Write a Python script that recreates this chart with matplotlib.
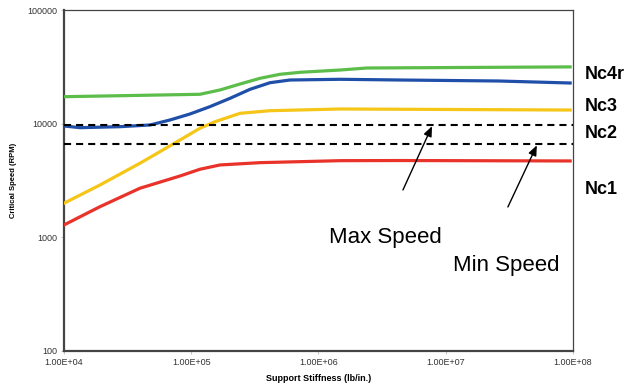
import matplotlib
matplotlib.use("Agg")
import matplotlib.pyplot as plt

plt.rcParams["font.family"] = ["Liberation Sans", "DejaVu Sans"]

# ── data ─────────────────────────────────────────────────────────────────────
stiff_nc4r = [1e4, 1.17e5, 1.68e5, 2.42e5, 3.47e5, 4.98e5, 7.16e5, 1.48e6,
              2.4e6, 9.5e7]
rpm_nc4r   = [17280, 18140, 19790, 22350, 25080, 27200, 28320, 29670,
              30900, 31600]

stiff_nc3b = [1e4, 1.34e4, 2.75e4, 4.74e4, 6.81e4, 9.77e4, 1.40e5, 2.02e5,
              2.90e5, 4.16e5, 5.97e5, 1.48e6, 4.4e6, 2.6e7, 9.5e7]
rpm_nc3b   = [9546, 9222, 9410, 9740, 10780, 12170, 14110, 16730,
              20070, 22940, 24230, 24580, 24230, 23750, 22800]

stiff_nc3 = [1e4, 1.92e4, 3.95e4, 8.17e4, 1.17e5, 1.54e5, 2.42e5, 4.16e5,
             1.48e6, 9.5e7]
rpm_nc3   = [1995, 2890, 4484, 7188, 9110, 10410, 12340, 13010,
             13470, 13190]

stiff_nc1 = [1e4, 1.92e4, 3.95e4, 8.17e4, 1.17e5, 1.68e5, 3.47e5, 1.48e6,
             4.4e6, 9.5e7]
rpm_nc1   = [1285, 1862, 2703, 3467, 3972, 4333, 4540, 4727, 4740, 4700]

max_speed = 9700
min_speed = 6600

x_ticks = [1e4, 1e5, 1e6, 1e7, 1e8]
x_tick_labels = ["1.00E+04", "1.00E+05", "1.00E+06", "1.00E+07", "1.00E+08"]
y_ticks = [100, 1000, 10000, 100000]
y_tick_labels = ["100", "1000", "10000", "100000"]

mode_labels = ["Nc4r", "Nc3", "Nc2", "Nc1"]
mode_label_y = [0.808, 0.725, 0.653, 0.510]


def main():
    fig = plt.figure(figsize=(6.26, 3.86), dpi=100, facecolor="white")
    ax = fig.add_axes([0.1022, 0.0907, 0.8131, 0.8833])

    lw = 2.3
    ax.plot(stiff_nc4r, rpm_nc4r, color="#5cbd4a", lw=lw, zorder=3)
    ax.plot(stiff_nc3b, rpm_nc3b, color="#1f4fa8", lw=lw, zorder=3)
    ax.plot(stiff_nc3, rpm_nc3, color="#f5c518", lw=lw, zorder=3)
    ax.plot(stiff_nc1, rpm_nc1, color="#e8322a", lw=lw, zorder=3)

    for speed in (max_speed, min_speed):
        ax.axhline(speed, color="black", lw=1.5, linestyle=(0, (3.4, 2.4)),
                   zorder=4)

    ax.set_xscale("log")
    ax.set_yscale("log")
    ax.set_xlim(1e4, 1e8)
    ax.set_ylim(100, 100000)
    ax.set_xticks(x_ticks)
    ax.set_xticklabels(x_tick_labels)
    ax.set_yticks(y_ticks)
    ax.set_yticklabels(y_tick_labels)
    ax.minorticks_off()
    ax.tick_params(labelsize=6.5, labelcolor="#333333", length=2,
                   color="#bbbbbb", width=0.6, pad=3)

    for side in ("left", "bottom"):
        ax.spines[side].set_linewidth(1.6)
        ax.spines[side].set_color("#444444")
    for side in ("top", "right"):
        ax.spines[side].set_linewidth(0.9)
        ax.spines[side].set_color("#444444")

    ax.set_xlabel("Support Stiffness (lb/in.)", fontsize=6.5,
                  fontweight="bold", labelpad=5)
    ax.set_ylabel("Critical Speed (RPM)", fontsize=5.5,
                  fontweight="bold", labelpad=7.5)

    # arrows pointing at the operating-speed lines
    arrow = dict(arrowstyle="-|>,head_length=0.6,head_width=0.25",
                 color="black", lw=1.0, shrinkA=0, shrinkB=0)
    ax.annotate("", xy=(7.8e6, 9500), xytext=(4.61e6, 2610),
                arrowprops=arrow, zorder=5)
    ax.annotate("", xy=(5.2e7, 6450), xytext=(3.08e7, 1850),
                arrowprops=arrow, zorder=5)

    ax.text(1.21e6, 990, "Max Speed", fontsize=16, ha="left", va="center")
    ax.text(1.14e7, 560, "Min Speed", fontsize=16, ha="left", va="center")

    for name, y in zip(mode_labels, mode_label_y):
        fig.text(0.9345, y, name, fontsize=13, fontweight="bold",
                 ha="left", va="center")

    fig.savefig("out.png", dpi=100, facecolor="white")


if __name__ == "__main__":
    main()
